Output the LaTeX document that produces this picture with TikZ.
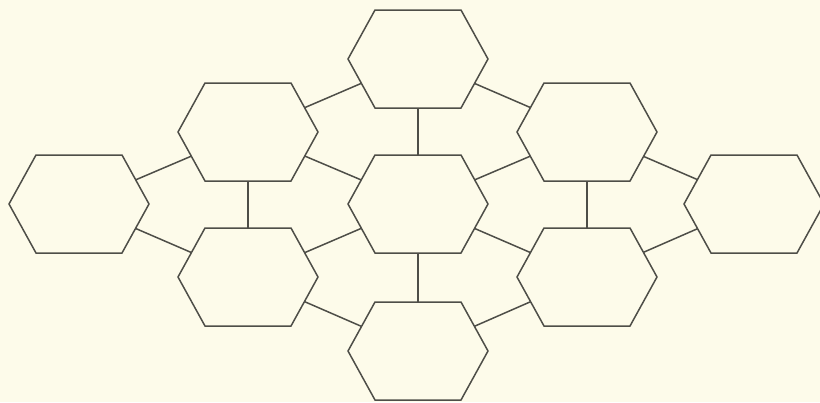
\documentclass[tikz,border=0pt]{standalone}
\usepackage{tikz}
\definecolor{bgcream}{RGB}{253,251,234}
\definecolor{linegray}{RGB}{78,78,72}
\tikzset{
  link/.style={draw=linegray, line width=1.5pt},
  hexshape/.style={draw=linegray, fill=bgcream, line width=1.5pt, line join=miter}
}
\begin{document}
\begin{tikzpicture}[x=1pt,y=-1pt]
\fill[bgcream] (0,0) rectangle (820,402);
\useasboundingbox (0,0) rectangle (820,402);
\coordinate (top) at (418,59);
\coordinate (ul) at (248,132);
\coordinate (ur) at (587,132);
\coordinate (lft) at (79,204);
\coordinate (ctr) at (418,204);
\coordinate (rgt) at (754,204);
\coordinate (ll) at (248,277);
\coordinate (lr) at (587,277);
\coordinate (bot) at (418,351);
% connectors
\draw[link] (top) -- (ul);
\draw[link] (top) -- (ur);
\draw[link] (top) -- (ctr);
\draw[link] (ul) -- (lft);
\draw[link] (ul) -- (ctr);
\draw[link] (ul) -- (ll);
\draw[link] (ur) -- (ctr);
\draw[link] (ur) -- (rgt);
\draw[link] (ur) -- (lr);
\draw[link] (lft) -- (ll);
\draw[link] (ctr) -- (ll);
\draw[link] (ctr) -- (lr);
\draw[link] (ctr) -- (bot);
\draw[link] (ll) -- (bot);
\draw[link] (lr) -- (bot);
\draw[link] (lr) -- (rgt);
% hexagons
\foreach \h in {top,ul,ur,lft,ctr,rgt,ll,lr,bot}{
  \draw[hexshape] ([shift={(-70,0)}]\h) -- ([shift={(-43,-49)}]\h) -- ([shift={(43,-49)}]\h)
    -- ([shift={(70,0)}]\h) -- ([shift={(43,49)}]\h) -- ([shift={(-43,49)}]\h) -- cycle;
}
\end{tikzpicture}
\end{document}
